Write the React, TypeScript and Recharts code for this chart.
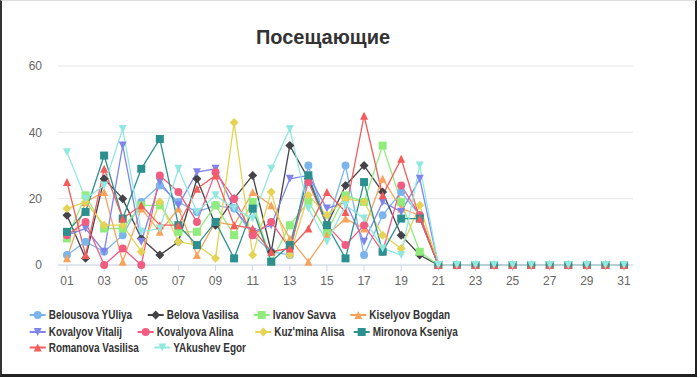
import React from 'react';
import { LineChart, Line, XAxis, YAxis, CartesianGrid } from 'recharts';

const days = ['01','02','03','04','05','06','07','08','09','10','11','12','13','14','15','16','17','18','19','20','21','22','23','24','25','26','27','28','29','30','31'];

const belousova = [3,7,4,9,19,24,19,16,18,17,9,4,3,30,12,30,3,15,22,15,0,0,0,0,0,0,0,0,0,0,0];
const belova = [15,2,26,20,8,3,7,26,12,20,27,4,36,26,12,24,30,22,9,3,0,0,0,0,0,0,0,0,0,0,0];
const ivanov = [8,21,11,11,18,18,10,10,18,9,19,1,12,19,10,21,19,36,19,4,0,0,0,0,0,0,0,0,0,0,0];
const kiselyov = [2,19,22,1,17,10,17,3,13,12,22,18,8,1,9,14,11,26,17,15,0,0,0,0,0,0,0,0,0,0,0];
const kovalyov = [9,11,4,36,7,25,18,28,29,17,10,12,26,27,17,19,7,19,16,26,0,0,0,0,0,0,0,0,0,0,0];
const kovalyova = [9,13,0,5,0,27,22,13,28,20,9,13,5,25,12,6,12,4,24,15,0,0,0,0,0,0,0,0,0,0,0];
const kuzmina = [17,19,12,12,4,19,7,6,2,43,3,22,3,21,15,20,19,9,5,18,0,0,0,0,0,0,0,0,0,0,0];
const mironova = [10,16,33,14,29,38,12,6,13,2,17,1,6,27,12,2,25,4,14,14,0,0,0,0,0,0,0,0,0,0,0];
const romanova = [25,3,29,14,18,12,12,23,27,12,11,4,5,11,22,16,45,21,32,14,0,0,0,0,0,0,0,0,0,0,0];
const yakushev = [34,20,24,41,10,11,29,16,21,17,14,29,41,17,7,18,14,5,3,30,0,0,0,0,0,0,0,0,0,0,0];

const seriesNames = ['Belousova YUliya','Belova Vasilisa','Ivanov Savva','Kiselyov Bogdan','Kovalyov Vitalij','Kovalyova Alina',"Kuz'mina Alisa",'Mironova Kseniya','Romanova Vasilisa','YAkushev Egor'];
const seriesValues = [belousova, belova, ivanov, kiselyov, kovalyov, kovalyova, kuzmina, mironova, romanova, yakushev];
const yTicks = [0, 20, 40, 60];
const xTicksShown = ['01','03','05','07','09','11','13','15','17','19','21','23','25','27','29','31'];

const colors = ['#7cb5ec','#434348','#90ed7d','#f7a35c','#8085e9','#f15c80','#e4d354','#2b908f','#f45b5b','#91e8e1'];
const shapes = ['circle','diamond','square','triangle','triangle-down','circle','diamond','square','triangle','triangle-down'];

// legend layout (marker centre x, row centre y)
const legendLayout: [number, number][] = [
  [37.7, 315], [155.7, 315], [261.7, 315], [358.3, 315],
  [37.7, 332], [145.7, 332], [263.3, 332], [361.7, 332],
  [37.7, 347.5], [162.3, 347.5],
];

const data = days.map((d, i) => {
  const row: Record<string, any> = { day: d };
  seriesNames.forEach((n, k) => { row[n] = seriesValues[k][i]; });
  return row;
});

function shapeEl(shape: string, cx: number, cy: number, color: string, key?: any) {
  const r = 4;
  switch (shape) {
    case 'circle':
      return <circle key={key} cx={cx} cy={cy} r={r} fill={color} />;
    case 'square':
      return <rect key={key} x={cx - r} y={cy - r} width={2 * r} height={2 * r} fill={color} />;
    case 'diamond':
      return <path key={key} d={`M${cx},${cy - r - 0.5}L${cx + r + 0.5},${cy}L${cx},${cy + r + 0.5}L${cx - r - 0.5},${cy}Z`} fill={color} />;
    case 'triangle':
      return <path key={key} d={`M${cx},${cy - r}L${cx + r},${cy + r}L${cx - r},${cy + r}Z`} fill={color} />;
    default:
      return <path key={key} d={`M${cx - r},${cy - r}L${cx + r},${cy - r}L${cx},${cy + r}Z`} fill={color} />;
  }
}

const makeDot = (shape: string, color: string) => (props: any) => {
  const { cx, cy, index } = props;
  if (cx == null || cy == null) return <g key={`e${index}`} />;
  return shapeEl(shape, cx, cy, color, `d${index}`);
};

const FONT = "'Liberation Sans', Arial, Helvetica, sans-serif";

export default function App() {
  return (
    <div style={{ position: 'fixed', left: 0, top: 0, width: 700, height: 378, background: '#fff', fontFamily: FONT }}>
      <div style={{ position: 'absolute', left: 0, top: 0, width: 697, height: 377, boxSizing: 'border-box', borderLeft: '2px solid #333', borderRight: '2px solid #222', borderBottom: '3px solid #222', borderTop: '1px solid #ddd' }} />
      <div style={{ position: 'absolute', left: 0, top: 24, width: 646, textAlign: 'center', fontSize: 20, fontWeight: 'bold', color: '#333', lineHeight: '26px' }}>
        Посещающие
      </div>
      <div style={{ position: 'absolute', left: 0, top: 0 }}>
        <LineChart width={700} height={378} data={data} margin={{ top: 66, right: 67, left: 28, bottom: 83 }}>
          <CartesianGrid horizontal vertical={false} stroke="#e6e6e6" />
          <XAxis
            dataKey="day"
            interval={0}
            ticks={xTicksShown}
            tickSize={6}
            tickMargin={5}
            padding={{ left: 9, right: 9 }}
            axisLine={{ stroke: '#ccd6eb' }}
            tickLine={{ stroke: '#ccd6eb' }}
            tick={{ fill: '#666', fontSize: 12, fontFamily: FONT }}
            height={30}
          />
          <YAxis
            domain={[0, 60]}
            ticks={yTicks}
            axisLine={false}
            tickLine={false}
            tickMargin={10}
            width={30}
            tick={{ fill: '#666', fontSize: 12, fontFamily: FONT }}
          />
          {seriesNames.map((n, k) => (
            <Line
              key={n}
              type="linear"
              dataKey={n}
              stroke={colors[k]}
              strokeWidth={1.3}
              dot={makeDot(shapes[k], colors[k])}
              activeDot={false}
              isAnimationActive={false}
            />
          ))}
        </LineChart>
      </div>
      <svg style={{ position: 'absolute', left: 0, top: 0 }} width={700} height={378}>
        {seriesNames.map((n, k) => {
          const [x, y] = legendLayout[k];
          return (
            <g key={n}>
              <line x1={x - 8} x2={x + 8} y1={y} y2={y} stroke={colors[k]} strokeWidth={2} />
              {shapeEl(shapes[k], x, y, colors[k])}
              <text transform={`translate(${x + 11},${y}) scale(0.83,1)`} dy="0.35em" fontSize={12} fontWeight="bold" fill="#333" fontFamily={FONT}>{n}</text>
            </g>
          );
        })}
      </svg>
    </div>
  );
}
